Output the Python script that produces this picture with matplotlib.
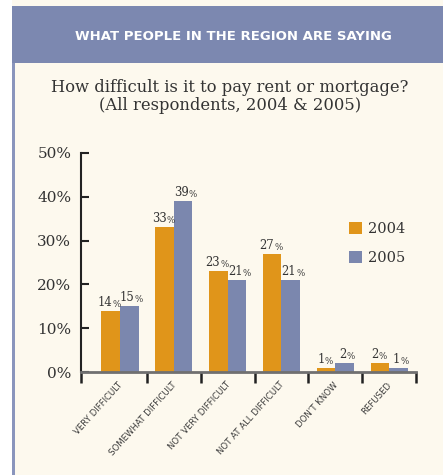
import numpy as np
import matplotlib
matplotlib.use("Agg")
import matplotlib.pyplot as plt
from matplotlib import font_manager
from matplotlib.patches import Rectangle

categories = ["VERY DIFFICULT", "SOMEWHAT DIFFICULT", "NOT VERY DIFFICULT",
              "NOT AT ALL DIFFICULT", "DON'T KNOW", "REFUSED"]
v2004 = [14, 33, 23, 27, 1, 2]
v2005 = [15, 39, 21, 21, 2, 1]
years = ["2004", "2005"]
yticks = [0, 10, 20, 30, 40, 50]

orange = "#E0951A"
blue = "#7B87AE"
cream = "#FDF9EE"
txt = "#333333"
serif = "DejaVu Serif"
names = {f.name for f in font_manager.fontManager.ttflist}
narrow = "Liberation Sans Narrow" if "Liberation Sans Narrow" in names else "DejaVu Sans"

W, H = 443, 475
fig = plt.figure(figsize=(W / 100, H / 100), dpi=100)
fig.patch.set_facecolor("white")

def px(x, y, w, h):
    # rectangle in pixel coords, y from top
    return (x / W, 1 - (y + h) / H), w / W, h / H

# fond crème + bord gauche + bandeau
for (xy, w, h), c in [(px(12, 0, W - 12, H), cream),
                      (px(12, 6, 3, H - 6), "#8A95BC"),
                      (px(12, 6, W - 12, 57), "#7C88B0")]:
    fig.patches.append(Rectangle(xy, w, h, transform=fig.transFigure,
                                 facecolor=c, edgecolor="none", zorder=-1))

fig.text(233 / W, 1 - 37 / H, "WHAT PEOPLE IN THE REGION ARE SAYING",
         color="white", fontsize=9.5, fontweight="bold", ha="center",
         va="center", family="DejaVu Sans")
fig.text(230 / W, 1 - 88 / H, "How difficult is it to pay rent or mortgage?",
         color=txt, fontsize=11.8, ha="center", va="center", family=serif)
fig.text(230 / W, 1 - 105 / H, "(All respondents, 2004 & 2005)",
         color=txt, fontsize=11.8, ha="center", va="center", family=serif)

ax = fig.add_axes([81 / W, 1 - 372 / H, 335 / W, 219 / H])
ax.set_zorder(1)
ax.set_facecolor("none")
x = np.arange(len(categories))
bw = 0.345
ax.bar(x - bw / 2, v2004, bw, color=orange, label=years[0], zorder=2)
ax.bar(x + bw / 2, v2005, bw, color=blue, label=years[1], zorder=2)

ax.set_xlim(-0.725, 5.5)
ax.set_ylim(0, 50)
ax.set_yticks(yticks)
ax.set_yticklabels([f"{t}%" for t in yticks], family=serif, fontsize=11, color=txt)
ax.tick_params(axis="y", direction="in", length=6, width=1.5, pad=7, color="#222")
ax.set_xticks([-0.725] + list(x + 0.5))
ax.set_xticklabels([])
ax.tick_params(axis="x", direction="out", length=8, width=1.8, color="#222")
for s in ["top", "right"]:
    ax.spines[s].set_visible(False)
ax.spines["left"].set_linewidth(1.5)
ax.spines["left"].set_color("#222")
ax.spines["bottom"].set_linewidth(2)
ax.spines["bottom"].set_color("#707070")
ax.spines["bottom"].set_zorder(3)

# étiquettes des barres : nombre + petit %, centrées sur la barre
for xs, vals, shift in [(x - bw / 2, v2004, -1.5), (x + bw / 2, v2005, 2.0)]:
    for xi, v in zip(xs, vals):
        s = str(v)
        dx = ((len(s) * 7.0 - 7.0) / 2 + shift) * 0.72
        ax.annotate(s, (xi, v), xytext=(dx, 1.5), textcoords="offset points",
                    ha="right", va="bottom", family=serif, fontsize=8.4, color=txt)
        ax.annotate("%", (xi, v), xytext=(dx, 1.5), textcoords="offset points",
                    ha="left", va="bottom", family=serif, fontsize=6.2, color=txt)

# libellés catégories inclinés
for xi, lab in zip(x, categories):
    ax.annotate(lab, (xi, 0), xytext=(1, -8), textcoords="offset points",
                ha="right", va="center", rotation=48, rotation_mode="anchor",
                family=[narrow, "DejaVu Sans"], fontstretch="condensed",
                fontsize=6.8, color="#3a3a3a")

ax.legend(loc="upper left", bbox_to_anchor=(349 / W, 1 - 222 / H),
          bbox_transform=fig.transFigure, frameon=False, borderpad=0,
          borderaxespad=0, handlelength=0.9, handleheight=0.9,
          handletextpad=0.4, labelspacing=1.0,
          prop={"family": serif, "size": 10.5}, labelcolor=txt)

fig.savefig("out.png", dpi=100, facecolor=fig.get_facecolor())
